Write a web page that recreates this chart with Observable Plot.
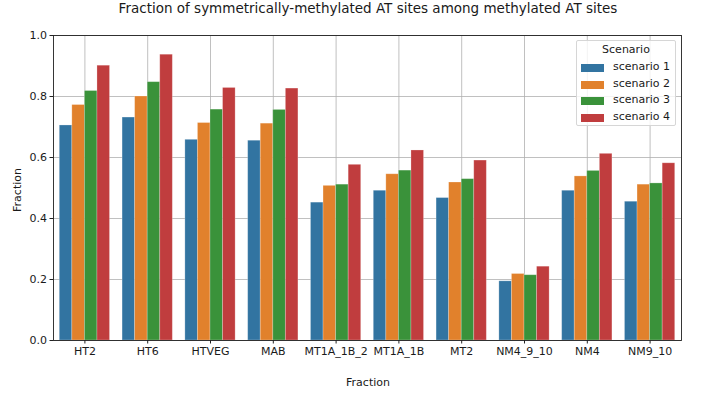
<!DOCTYPE html>
<html>
<head>
<meta charset="utf-8">
<script src="https://cdn.jsdelivr.net/npm/d3@7"></script>
<script src="https://cdn.jsdelivr.net/npm/@observablehq/plot@0.6"></script>
<style>
  html, body { margin: 0; padding: 0; background: #fff; }
  #wrap { position: relative; width: 701px; height: 397px; font-family: "DejaVu Sans", sans-serif; color: #1a1a1a; }
  .lbl { position: absolute; white-space: nowrap; }
  #title { left: 368px; top: 0px; transform: translateX(-50%); font-size: 13.5px; line-height: 16px; }
  #xlabel { left: 368px; top: 381.5px; transform: translate(-50%, -50%); font-size: 11px; }
  #ylabel { left: 16.5px; top: 190px; transform: translate(-50%, -50%) rotate(-90deg); font-size: 11px; }
  #legend { position: absolute; left: 576px; top: 40px; width: 100px; height: 86px; border: 1px solid #d6d6d6; border-radius: 2px; background: rgba(255,255,255,0.8); font-size: 11px; box-sizing: border-box; }
  #legend .ttl { position: absolute; left: 0; width: 100%; top: 2px; text-align: center; white-space: nowrap; }
  #legend .row { position: absolute; left: 4px; width: 92px; height: 12px; white-space: nowrap; }
  #legend .sw { position: absolute; left: 0; top: 3px; width: 23px; height: 8px; }
  #legend .tx { position: absolute; left: 32px; top: -1px; white-space: nowrap; }
</style>
</head>
<body>
<div id="wrap">
  <div id="chart"></div>
  <div id="title" class="lbl">Fraction of symmetrically-methylated AT sites among methylated AT sites</div>
  <div id="xlabel" class="lbl">Fraction</div>
  <div id="ylabel" class="lbl">Fraction</div>
  <div id="legend"></div>
</div>
<script>
const categories = ["HT2", "HT6", "HTVEG", "MAB", "MT1A_1B_2", "MT1A_1B", "MT2", "NM4_9_10", "NM4", "NM9_10"];
const scenarios = ["scenario 1", "scenario 2", "scenario 3", "scenario 4"];
const scenario1 = [0.705, 0.731, 0.658, 0.655, 0.452, 0.491, 0.467, 0.194, 0.491, 0.455];
const scenario2 = [0.772, 0.800, 0.713, 0.711, 0.507, 0.545, 0.518, 0.218, 0.538, 0.511];
const scenario3 = [0.818, 0.847, 0.757, 0.756, 0.511, 0.557, 0.529, 0.214, 0.556, 0.515];
const scenario4 = [0.901, 0.937, 0.828, 0.826, 0.576, 0.623, 0.590, 0.242, 0.612, 0.581];
const yTicks = [0, 0.2, 0.4, 0.6, 0.8, 1.0];
const colors = ["#3274a1", "#e1812c", "#3a923a", "#c03d3e"];

const series = [scenario1, scenario2, scenario3, scenario4];
const rows = [];
categories.forEach((c, i) => {
  series.forEach((vals, j) => {
    rows.push({category: c, idx: i, scenario: scenarios[j], j, value: vals[i]});
  });
});
const groupWidth = 0.8, barW = groupWidth / scenarios.length;

const chart = Plot.plot({
  width: 701,
  height: 397,
  marginTop: 35,
  marginBottom: 57,
  marginLeft: 53,
  marginRight: 20,
  style: {fontFamily: "DejaVu Sans, sans-serif", fontSize: "11px", color: "#1a1a1a", background: "transparent"},
  x: {domain: [-0.5, categories.length - 0.5], label: null},
  y: {domain: [0, 1], label: null},
  color: {domain: scenarios, range: colors},
  marks: [
    Plot.gridX(d3.range(categories.length), {stroke: "#b0b0b0", strokeOpacity: 1, strokeWidth: 0.8}),
    Plot.gridY(yTicks, {stroke: "#b0b0b0", strokeOpacity: 1, strokeWidth: 0.8}),
    Plot.rectY(rows, {
      x1: d => d.idx - groupWidth / 2 + d.j * barW,
      x2: d => d.idx - groupWidth / 2 + (d.j + 1) * barW,
      y: "value",
      fill: "scenario",
      stroke: "white",
      strokeOpacity: 0.3,
      strokeWidth: 0.8
    }),
    Plot.frame({stroke: "#222", strokeWidth: 0.9}),
    Plot.axisX(d3.range(categories.length), {tickFormat: i => categories[i], tickSize: 3.5, tickPadding: 3, label: null, stroke: "#222"}),
    Plot.axisY(yTicks, {tickFormat: d3.format(".1f"), tickSize: 3.5, tickPadding: 3, label: null, stroke: "#222"})
  ]
});
document.getElementById("chart").appendChild(chart);

const legend = document.getElementById("legend");
const ttl = document.createElement("div");
ttl.className = "ttl";
ttl.textContent = "Scenario";
legend.appendChild(ttl);
scenarios.forEach((s, j) => {
  const row = document.createElement("div");
  row.className = "row";
  row.style.top = (20 + j * 16.5) + "px";
  const sw = document.createElement("div");
  sw.className = "sw";
  sw.style.background = colors[j];
  const tx = document.createElement("div");
  tx.className = "tx";
  tx.textContent = s;
  row.appendChild(sw);
  row.appendChild(tx);
  legend.appendChild(row);
});
</script>
</body>
</html>
